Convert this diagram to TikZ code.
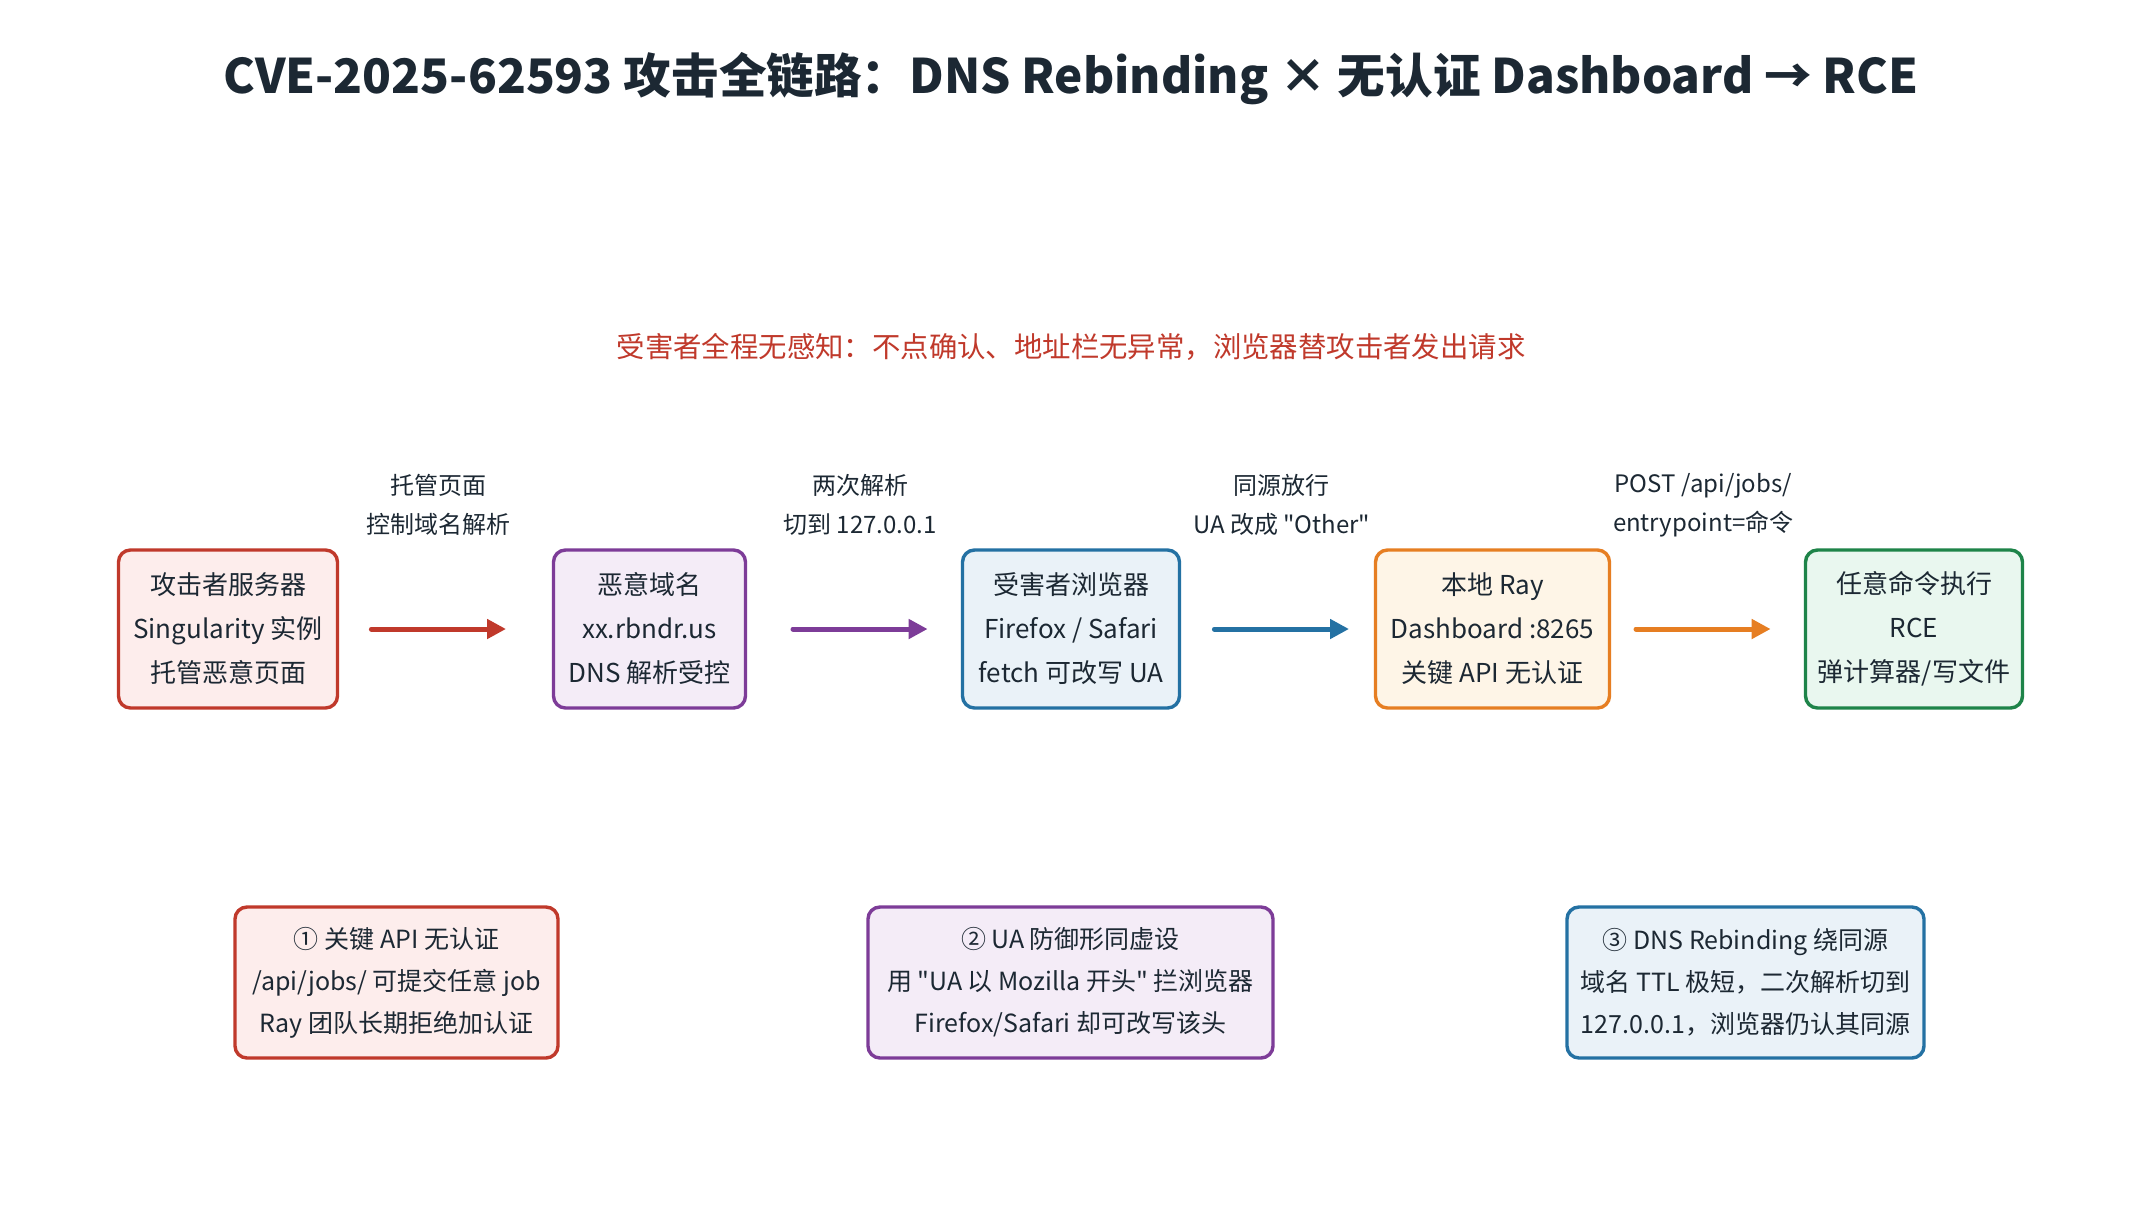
\documentclass[tikz,border=0pt]{standalone}
\usepackage{fontspec}
\setmainfont{Noto Sans CJK SC}[Ligatures=TeXOff]
\usetikzlibrary{arrows.meta}
\definecolor{ink}{HTML}{1C2833}
\definecolor{redB}{HTML}{C0392B}\definecolor{redF}{HTML}{FDEDEC}
\definecolor{purB}{HTML}{7D3C98}\definecolor{purF}{HTML}{F4ECF7}
\definecolor{bluB}{HTML}{2471A3}\definecolor{bluF}{HTML}{EAF2F8}
\definecolor{ornB}{HTML}{E67E22}\definecolor{ornF}{HTML}{FEF5E7}
\definecolor{grnB}{HTML}{1E8449}\definecolor{grnF}{HTML}{E9F7EF}
\tikzset{
  flowbox/.style={draw, line width=1.7pt, rounded corners=6pt, align=center, inner sep=0pt,
    minimum height=79pt, text=ink, font=\fontsize{13}{22}\selectfont},
  notebox/.style={draw, line width=1.7pt, rounded corners=6pt, align=center, inner sep=0pt,
    minimum height=75.5pt, text=ink, font=\fontsize{12.5}{21}\selectfont},
  flowarrow/.style={line width=2.5pt, line cap=round, -{Triangle[length=9.5pt,width=9.5pt]}},
  arrlabel/.style={align=center, inner sep=0pt, text=ink, font=\fontsize{12}{19.5}\selectfont},
}
\begin{document}
\begin{tikzpicture}[x=0.5pt,y=-0.5pt]
\useasboundingbox (0,0) rectangle (2142,1212);
\fill[white] (0,0) rectangle (2142,1212);

\node[text=ink, font=\bfseries\fontsize{23.8}{28}\selectfont, inner sep=0pt] (title) at (1071,79)
  {CVE-2025-62593 攻击全链路：DNS Rebinding × 无认证 Dashboard → RCE};
\node[text=redB, font=\fontsize{14.2}{18}\selectfont, inner sep=0pt] (sub) at (1071,347)
  {受害者全程无感知：不点确认、地址栏无异常，浏览器替攻击者发出请求};

\node[flowbox, draw=redB, fill=redF, minimum width=109.5pt] (b1) at (228,629)
  {攻击者服务器\\Singularity 实例\\托管恶意页面};
\node[flowbox, draw=purB, fill=purF, minimum width=96pt] (b2) at (649.5,629)
  {恶意域名\\xx.rbndr.us\\DNS 解析受控};
\node[flowbox, draw=bluB, fill=bluF, minimum width=108.5pt] (b3) at (1071,629)
  {受害者浏览器\\Firefox / Safari\\fetch 可改写 UA};
\node[flowbox, draw=ornB, fill=ornF, minimum width=117pt] (b4) at (1492.5,629)
  {本地 Ray\\Dashboard :8265\\关键 API 无认证};
\node[flowbox, draw=grnB, fill=grnF, minimum width=108.5pt] (b5) at (1914,629)
  {任意命令执行\\RCE\\弹计算器/写文件};

\draw[flowarrow, redB, shorten <=16.1pt, shorten >=22.9pt] (b1) -- (b2);
\draw[flowarrow, purB, shorten <=22.9pt, shorten >=16.6pt] (b2) -- (b3);
\draw[flowarrow, bluB, shorten <=16.6pt, shorten >=12.4pt] (b3) -- (b4);
\draw[flowarrow, ornB, shorten <=12.4pt, shorten >=16.6pt] (b4) -- (b5);

\node[arrlabel] (l1) at (438.75,505) {托管页面\\控制域名解析};
\node[arrlabel] (l2) at (860.25,505) {两次解析\\切到 127.0.0.1};
\node[arrlabel] (l3) at (1281.75,505) {同源放行\\UA 改成 "Other"};
\node[arrlabel] (l4) at (1703.25,505) {POST /api/jobs/\\entrypoint=命令};

\node[notebox, draw=redB, fill=redF, minimum width=161.5pt] (n1) at (396.5,982.5)
  {① 关键 API 无认证\\/api/jobs/ 可提交任意 job\\Ray 团队长期拒绝加认证};
\node[notebox, draw=purB, fill=purF, minimum width=202.5pt] (n2) at (1070.5,982.5)
  {② UA 防御形同虚设\\用 "UA 以 Mozilla 开头" 拦浏览器\\Firefox/Safari 却可改写该头};
\node[notebox, draw=bluB, fill=bluF, minimum width=178.5pt] (n3) at (1745.5,982.5)
  {③ DNS Rebinding 绕同源\\域名 TTL 极短，二次解析切到\\127.0.0.1，浏览器仍认其同源};
\end{tikzpicture}
\end{document}
